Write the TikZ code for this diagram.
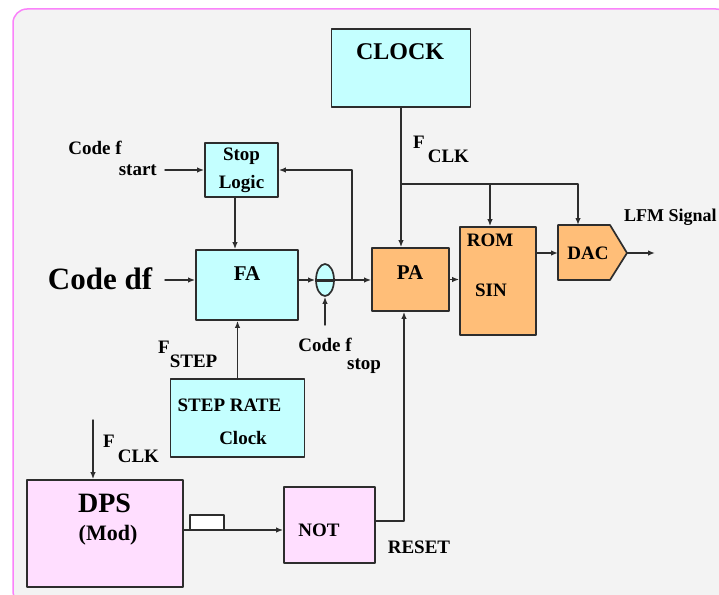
\documentclass[tikz,border=0pt]{standalone}
\usepackage{fontspec}
\setmainfont{Liberation Serif}
\usetikzlibrary{shapes.geometric,arrows.meta}
\definecolor{boxcyan}{RGB}{196,255,255}
\definecolor{boxorange}{RGB}{255,190,120}
\definecolor{boxpink}{RGB}{255,222,255}
\definecolor{framepink}{RGB}{250,130,250}
\definecolor{bggray}{RGB}{243,243,243}
\definecolor{linegray}{RGB}{45,45,45}
\begin{document}
\begin{tikzpicture}[x=1pt,y=-1pt,line cap=round,line join=round,>={Latex[length=7pt,width=5.5pt]},
  blk/.style={draw=linegray,line width=1.7pt,inner sep=0pt},
  wire/.style={draw=linegray,line width=1.4pt},
  lbl/.style={inner sep=0pt,font=\fontsize{19}{22}\selectfont\bfseries}]
  \useasboundingbox (0,0) rectangle (719,594);
  \clip (0,0) rectangle (719,594);
  \fill[bggray,draw=framepink,line width=1.5pt,rounded corners=14pt] (13,9) rectangle (730,605);
  \node[blk,fill=boxcyan,minimum width=139pt,minimum height=78pt] (clock) at (401,68) {};
  \node[blk,fill=boxcyan,minimum width=73pt,minimum height=54pt,lbl,align=center,font=\fontsize{19}{28}\selectfont\bfseries] (stop) at (241.5,170) {Stop\\Logic};
  \node[blk,fill=boxcyan,minimum width=102pt,minimum height=70pt] (fa) at (247,285) {};
  \node[blk,fill=boxcyan,ellipse,minimum width=18pt,minimum height=32pt] (sum) at (325,280) {};
  \draw[line width=3pt,linegray,line cap=butt] (sum.west) -- (sum.east);
  \node[blk,fill=boxorange,minimum width=77pt,minimum height=63pt] (pa) at (410.5,279.5) {};
  \node[blk,fill=boxorange,minimum width=76pt,minimum height=108pt] (rom) at (498,281) {};
  \draw[blk,fill=boxorange] (558,225) -- (610,225) -- (627,253) -- (610,280) -- (558,280) -- cycle;
  \node[lbl] (dac) at (588,253) {DAC};
  \node[blk,fill=boxcyan,minimum width=134pt,minimum height=78pt] (steprate) at (237.5,418) {};
  \node[blk,fill=boxpink,minimum width=156pt,minimum height=107pt] (dps) at (105,533.5) {};
  \node[blk,fill=boxpink,minimum width=91pt,minimum height=76pt] (not) at (329.5,525) {};
  \node[lbl,font=\fontsize{24}{26}\selectfont\bfseries] at (400,52) {CLOCK};
  \node[lbl,font=\fontsize{21}{24}\selectfont\bfseries] at (247,274) {FA};
  \node[lbl,font=\fontsize{21}{24}\selectfont\bfseries] at (410,273) {PA};
  \node[lbl] at (490,240) {ROM};
  \node[lbl] at (491,290) {SIN};
  \node[lbl] at (229.5,405) {STEP RATE};
  \node[lbl] at (243,438) {Clock};
  \node[lbl,font=\fontsize{28}{30}\selectfont\bfseries] at (104.5,503.5) {DPS};
  \node[lbl,font=\fontsize{22}{24}\selectfont\bfseries] at (108,535) {(Mod)};
  \node[lbl] at (319,530) {NOT};
  \node[lbl] at (419,547) {RESET};
  \node[lbl,font=\fontsize{31}{34}\selectfont\bfseries] (codedf) at (100,279) {Code df};
  \node[lbl] at (95,148) {Code f};
  \node[lbl,anchor=east] at (157,170) {start};
  \node[lbl] at (325,345) {Code f};
  \node[lbl] at (364,366) {stop};
  \node[lbl,anchor=west,font=\fontsize{18}{20}\selectfont\bfseries] at (624,217) {LFM Signal};
  \node[lbl,anchor=base west] at (413,148) {F\kern3pt\raisebox{-14pt}{CLK}};
  \node[lbl,anchor=base west] at (158,353) {F\kern0pt\raisebox{-14pt}{STEP}};
  \node[lbl,anchor=base west] at (103,447) {F\kern3pt\raisebox{-15pt}{CLK}};
  \coordinate (startin) at (165,170);
  \coordinate (dfin) at (165,280);
  \coordinate (fb) at (352,280);
  \coordinate (stopin) at (325,325);
  \coordinate (clk) at (401,184);
  \coordinate (dacin) at (578,225);
  \coordinate (dacw) at (558,253);
  \coordinate (dace) at (627,253);
  \coordinate (lfm) at (655,253);
  \coordinate (clkin) at (93,420);
  \draw[wire,->] (startin) -- (stop.west);
  \draw[wire,->] ([xshift=-6.5pt]stop.south) -- ([xshift=-6.5pt]stop.south |- fa.north);
  \draw[wire,->] (dfin) -- (dfin -| fa.west);
  \draw[wire,->] (sum.west -| fa.east) -- (sum.west);
  \draw[wire,->] (sum.east) -- (sum.east -| pa.west);
  \draw[wire,->] (fb) |- (stop.east);
  \draw[wire,->] (stopin) -- (sum.south);
  \draw[wire,->] (clock.south) -- (clock.south |- pa.north);
  \draw[wire,->] (clk) -| ([xshift=-8pt]rom.north);
  \draw[wire,->] (clk) -| (dacin);
  \draw[wire,->] (pa.east) -- (pa.east -| rom.west);
  \draw[wire,->] (dacw -| rom.east) -- (dacw);
  \draw[wire,->] (dace) -- (lfm);
  \draw[wire,->] (steprate.north) -- (steprate.north |- fa.south);
  \draw[wire,->] (clkin) -- (clkin |- dps.north);
  \draw[wire,->] ([yshift=3.5pt]dps.east) -- ([yshift=3.5pt]dps.east -| not.west);
  \draw[wire,fill=white] (190,530) rectangle (224,515);
  \draw[wire,->] ([yshift=4pt]not.east) -| ([xshift=-6.5pt]pa.south);
\end{tikzpicture}
\end{document}
